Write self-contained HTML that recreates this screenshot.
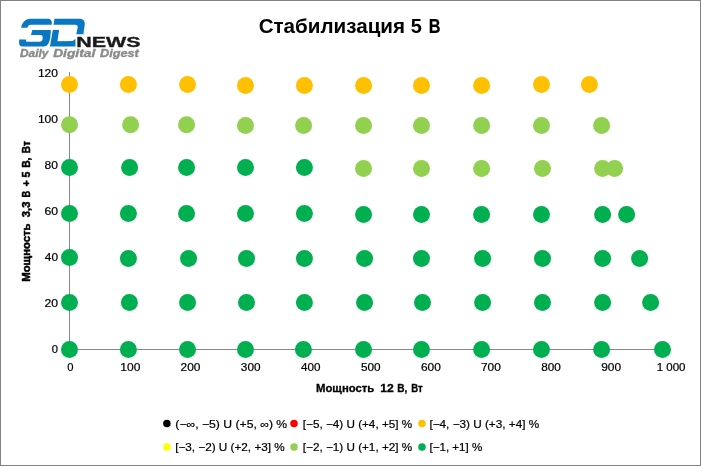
<!DOCTYPE html>
<html><head><meta charset="utf-8"><title>chart</title>
<style>
html,body{margin:0;padding:0;background:#fff;}
body{width:701px;height:466px;overflow:hidden;position:relative;font-family:"Liberation Sans",sans-serif;}
svg{display:block;position:absolute;left:0;top:0;will-change:transform;}
text{font-family:"Liberation Sans",sans-serif;fill:#000;}
.tk{font-size:10.4px;stroke:#000;stroke-width:0.2px;}
.ttl{font-size:20px;font-weight:bold;}
.ax{font-size:11.2px;font-weight:bold;stroke:#000;stroke-width:0.3px;}
.ay{stroke-width:0.5px;}
.lg{font-size:10.6px;stroke:#000;stroke-width:0.2px;}
.news{font-size:15.2px;font-weight:bold;}
.news text{fill:#1a1a1a;stroke:#1a1a1a;stroke-width:0.35px;}
.tag{font-size:10px;font-weight:bold;font-style:italic;}
.tag text{fill:#8a8a8a;stroke:#8a8a8a;stroke-width:0.35px;}
</style></head><body>
<svg width="701" height="466" viewBox="0 0 701 466">
<rect x="0" y="0" width="701" height="466" fill="#fff"/>
<rect x="0.5" y="0.5" width="700" height="465" fill="none" stroke="#828282" stroke-width="1"/>
<!-- axes -->
<rect x="69" y="72" width="1" height="278" fill="#8a8a8a"/>
<rect x="69" y="349" width="602" height="1" fill="#8a8a8a"/>
<!-- dots -->
<circle cx="69.5" cy="84.5" r="8.5" fill="#FFC000"/>
<circle cx="128.4" cy="84.5" r="8.5" fill="#FFC000"/>
<circle cx="187.55" cy="84.5" r="8.5" fill="#FFC000"/>
<circle cx="245.5" cy="85.5" r="8.5" fill="#FFC000"/>
<circle cx="304.4" cy="85.5" r="8.5" fill="#FFC000"/>
<circle cx="363.55" cy="85.5" r="8.5" fill="#FFC000"/>
<circle cx="421.5" cy="85.5" r="8.5" fill="#FFC000"/>
<circle cx="481.6" cy="85.5" r="8.5" fill="#FFC000"/>
<circle cx="541.5" cy="84.5" r="8.5" fill="#FFC000"/>
<circle cx="589.4" cy="84.5" r="8.5" fill="#FFC000"/>
<circle cx="69.5" cy="124.7" r="8.5" fill="#92D050"/>
<circle cx="130.6" cy="124.7" r="8.5" fill="#92D050"/>
<circle cx="186.55" cy="124.7" r="8.5" fill="#92D050"/>
<circle cx="245.5" cy="125.4" r="8.5" fill="#92D050"/>
<circle cx="303.6" cy="125.4" r="8.5" fill="#92D050"/>
<circle cx="363.55" cy="125.4" r="8.5" fill="#92D050"/>
<circle cx="421.5" cy="125.4" r="8.5" fill="#92D050"/>
<circle cx="481.6" cy="125.4" r="8.5" fill="#92D050"/>
<circle cx="541.5" cy="125.4" r="8.5" fill="#92D050"/>
<circle cx="601.6" cy="125.4" r="8.5" fill="#92D050"/>
<circle cx="69.5" cy="167.6" r="8.5" fill="#00B050"/>
<circle cx="129.6" cy="167.6" r="8.5" fill="#00B050"/>
<circle cx="186.55" cy="167.6" r="8.5" fill="#00B050"/>
<circle cx="245.5" cy="167.6" r="8.5" fill="#00B050"/>
<circle cx="304.4" cy="167.6" r="8.5" fill="#00B050"/>
<circle cx="363.55" cy="168.6" r="8.5" fill="#92D050"/>
<circle cx="421.5" cy="168.6" r="8.5" fill="#92D050"/>
<circle cx="481.6" cy="168.6" r="8.5" fill="#92D050"/>
<circle cx="542.5" cy="168.6" r="8.5" fill="#92D050"/>
<circle cx="602.6" cy="168.6" r="8.5" fill="#92D050"/>
<circle cx="614.6" cy="168.6" r="8.5" fill="#92D050"/>
<circle cx="69.5" cy="213.45" r="8.5" fill="#00B050"/>
<circle cx="128.4" cy="213.45" r="8.5" fill="#00B050"/>
<circle cx="186.55" cy="213.45" r="8.5" fill="#00B050"/>
<circle cx="245.5" cy="213.45" r="8.5" fill="#00B050"/>
<circle cx="304.4" cy="213.45" r="8.5" fill="#00B050"/>
<circle cx="363.55" cy="214.45" r="8.5" fill="#00B050"/>
<circle cx="421.5" cy="214.45" r="8.5" fill="#00B050"/>
<circle cx="481.6" cy="214.45" r="8.5" fill="#00B050"/>
<circle cx="541.5" cy="214.45" r="8.5" fill="#00B050"/>
<circle cx="602.6" cy="214.45" r="8.5" fill="#00B050"/>
<circle cx="626.6" cy="214.45" r="8.5" fill="#00B050"/>
<circle cx="69.5" cy="257.6" r="8.5" fill="#00B050"/>
<circle cx="128.4" cy="258.4" r="8.5" fill="#00B050"/>
<circle cx="188.55" cy="258.4" r="8.5" fill="#00B050"/>
<circle cx="246.5" cy="258.4" r="8.5" fill="#00B050"/>
<circle cx="304.4" cy="258.4" r="8.5" fill="#00B050"/>
<circle cx="364.55" cy="258.4" r="8.5" fill="#00B050"/>
<circle cx="421.5" cy="258.4" r="8.5" fill="#00B050"/>
<circle cx="482.6" cy="258.4" r="8.5" fill="#00B050"/>
<circle cx="542.5" cy="258.4" r="8.5" fill="#00B050"/>
<circle cx="602.6" cy="258.4" r="8.5" fill="#00B050"/>
<circle cx="639.6" cy="258.4" r="8.5" fill="#00B050"/>
<circle cx="69.5" cy="302.5" r="8.5" fill="#00B050"/>
<circle cx="129.4" cy="302.5" r="8.5" fill="#00B050"/>
<circle cx="187.55" cy="302.5" r="8.5" fill="#00B050"/>
<circle cx="246.5" cy="302.5" r="8.5" fill="#00B050"/>
<circle cx="304.4" cy="302.5" r="8.5" fill="#00B050"/>
<circle cx="364.55" cy="302.5" r="8.5" fill="#00B050"/>
<circle cx="422.5" cy="302.5" r="8.5" fill="#00B050"/>
<circle cx="482.6" cy="302.5" r="8.5" fill="#00B050"/>
<circle cx="542.5" cy="302.5" r="8.5" fill="#00B050"/>
<circle cx="602.6" cy="302.5" r="8.5" fill="#00B050"/>
<circle cx="650.6" cy="302.5" r="8.5" fill="#00B050"/>
<circle cx="69.5" cy="349.4" r="8.5" fill="#00B050"/>
<circle cx="128.4" cy="349.4" r="8.5" fill="#00B050"/>
<circle cx="187.55" cy="349.4" r="8.5" fill="#00B050"/>
<circle cx="245.5" cy="349.4" r="8.5" fill="#00B050"/>
<circle cx="303.4" cy="349.4" r="8.5" fill="#00B050"/>
<circle cx="363.55" cy="349.4" r="8.5" fill="#00B050"/>
<circle cx="421.5" cy="349.4" r="8.5" fill="#00B050"/>
<circle cx="481.6" cy="349.4" r="8.5" fill="#00B050"/>
<circle cx="541.5" cy="349.4" r="8.5" fill="#00B050"/>
<circle cx="601.6" cy="349.4" r="8.5" fill="#00B050"/>
<circle cx="662.5" cy="349.4" r="8.5" fill="#00B050"/>
<!-- tick labels -->
<g class="tk">
<text x="67.35" y="370.60" textLength="6.23" lengthAdjust="spacingAndGlyphs">0</text>
<text x="120.33" y="370.60" textLength="20.05" lengthAdjust="spacingAndGlyphs">100</text>
<text x="180.60" y="370.60" textLength="19.85" lengthAdjust="spacingAndGlyphs">200</text>
<text x="240.87" y="370.60" textLength="19.66" lengthAdjust="spacingAndGlyphs">300</text>
<text x="301.14" y="370.60" textLength="19.47" lengthAdjust="spacingAndGlyphs">400</text>
<text x="361.03" y="370.60" textLength="19.66" lengthAdjust="spacingAndGlyphs">500</text>
<text x="420.92" y="370.60" textLength="19.85" lengthAdjust="spacingAndGlyphs">600</text>
<text x="481.00" y="370.60" textLength="19.85" lengthAdjust="spacingAndGlyphs">700</text>
<text x="541.27" y="370.60" textLength="19.66" lengthAdjust="spacingAndGlyphs">800</text>
<text x="601.16" y="370.60" textLength="19.85" lengthAdjust="spacingAndGlyphs">900</text>
<text x="656.68" y="370.60" textLength="28.81" lengthAdjust="spacingAndGlyphs">1 000</text>
<text x="51.75" y="353.10" textLength="6.23" lengthAdjust="spacingAndGlyphs">0</text>
<text x="44.43" y="307.10" textLength="13.58" lengthAdjust="spacingAndGlyphs">20</text>
<text x="44.81" y="261.10" textLength="13.18" lengthAdjust="spacingAndGlyphs">40</text>
<text x="44.43" y="215.10" textLength="13.58" lengthAdjust="spacingAndGlyphs">60</text>
<text x="44.62" y="169.10" textLength="13.38" lengthAdjust="spacingAndGlyphs">80</text>
<text x="37.95" y="123.10" textLength="20.05" lengthAdjust="spacingAndGlyphs">100</text>
<text x="37.95" y="77.10" textLength="20.05" lengthAdjust="spacingAndGlyphs">120</text>
</g>
<!-- title -->
<g class="ttl">
<text x="258.66" y="32.80" textLength="146.34" lengthAdjust="spacingAndGlyphs">Стабилизация</text>
<text x="410.69" y="32.80" textLength="11.11" lengthAdjust="spacingAndGlyphs">5</text>
<text style="stroke:#000;stroke-width:0.2px" x="428.78" y="32.80" textLength="11.79" lengthAdjust="spacingAndGlyphs">В</text>
</g>
<!-- axis titles -->
<g class="ax">
<text x="315.99" y="391.80" textLength="58.32" lengthAdjust="spacingAndGlyphs">Мощность</text>
<text x="380.24" y="391.80" textLength="13.46" lengthAdjust="spacingAndGlyphs">12</text>
<text x="397.22" y="391.80" textLength="10.07" lengthAdjust="spacingAndGlyphs">В,</text>
<text x="411.20" y="391.80" textLength="11.50" lengthAdjust="spacingAndGlyphs">Вт</text>
</g>
<g class="ax ay" transform="translate(30.2,281.0) rotate(-90)">
<text x="-0.71" y="0.00" textLength="58.22" lengthAdjust="spacingAndGlyphs">Мощность</text>
<text x="63.82" y="0.00" textLength="15.66" lengthAdjust="spacingAndGlyphs">3,3</text>
<text x="83.52" y="0.00" textLength="6.70" lengthAdjust="spacingAndGlyphs">В</text>
<text x="94.47" y="0.00" textLength="6.12" lengthAdjust="spacingAndGlyphs">+</text>
<text x="103.53" y="0.00" textLength="5.93" lengthAdjust="spacingAndGlyphs">5</text>
<text x="113.16" y="0.00" textLength="10.25" lengthAdjust="spacingAndGlyphs">В,</text>
<text x="127.77" y="0.00" textLength="12.04" lengthAdjust="spacingAndGlyphs">Вт</text>
</g>
<!-- legend -->
<circle cx="166.9" cy="423.4" r="3.75" fill="#000"/>
<circle cx="294" cy="423.4" r="3.75" fill="#FF0000"/>
<circle cx="422" cy="423.4" r="3.75" fill="#FFC000"/>
<circle cx="166.9" cy="447.1" r="3.75" fill="#FFFF00"/>
<circle cx="294" cy="447.1" r="3.75" fill="#92D050"/>
<circle cx="422" cy="447.1" r="3.75" fill="#00B050"/>
<g class="lg">
<text x="175.33" y="427.50" textLength="111.83" lengthAdjust="spacingAndGlyphs">(−∞, −5) U (+5, ∞) %</text>
<text x="302.87" y="427.50" textLength="109.28" lengthAdjust="spacingAndGlyphs">[−5, −4) U (+4, +5] %</text>
<text x="429.47" y="427.50" textLength="109.68" lengthAdjust="spacingAndGlyphs">[−4, −3) U (+3, +4] %</text>
<text x="175.17" y="451.30" textLength="109.58" lengthAdjust="spacingAndGlyphs">[−3, −2) U (+2, +3] %</text>
<text x="302.87" y="451.30" textLength="109.28" lengthAdjust="spacingAndGlyphs">[−2, −1) U (+1, +2] %</text>
<text x="429.48" y="451.30" textLength="52.77" lengthAdjust="spacingAndGlyphs">[−1, +1] %</text>
</g>
<!-- logo -->
<g id="logo">
<path fill="#0878C2" d="M21.1,27.7 C21.9,23.2 24.8,18.75 30.5,18.75 L47.6,18.75 C50.6,18.75 52,20.5 51.9,23 L51.7,24.85 L30.8,24.85 C29,24.85 27.8,26 27.4,27.7 Z"/>
<path fill="#0878C2" d="M32.3,30.1 L50.8,30.1 C50.6,38 49.5,46.5 44,46.5 L22.3,46.5 C20.3,46.5 19.1,45.2 19.1,43.1 L19.1,39.4 L26,39.4 L26.3,41.7 L39.4,41.7 C41.2,41.7 42.3,40.8 42.6,39 C42.9,37 42.5,35.1 40.5,35.1 L30.95,35.1 Z"/>
<path fill="#0878C2" d="M54.45,18.75 L79.7,18.75 C83,18.75 84.9,21 84.8,24 L83.4,34.25 L76.25,34.25 L77.7,27.4 C77.9,25.8 77,24.85 75.1,24.85 L53.5,24.85 Z"/>
<path fill="#0878C2" d="M52.8,30.1 L59.1,30.1 L57.4,41.3 L72.5,41 L75.4,39.1 L75.5,46.55 L49.95,46.55 Z"/>
<g class="news">
<text x="76.16" y="46.50" textLength="64.30" lengthAdjust="spacingAndGlyphs">NEWS</text>
</g>
<g class="tag">
<text x="20.01" y="56.70" textLength="28.35" lengthAdjust="spacingAndGlyphs">Daily</text>
<text x="53.18" y="56.70" textLength="42.05" lengthAdjust="spacingAndGlyphs">Digital</text>
<text x="100.00" y="56.70" textLength="38.86" lengthAdjust="spacingAndGlyphs">Digest</text>
</g>
</g>
</svg>
</body></html>
